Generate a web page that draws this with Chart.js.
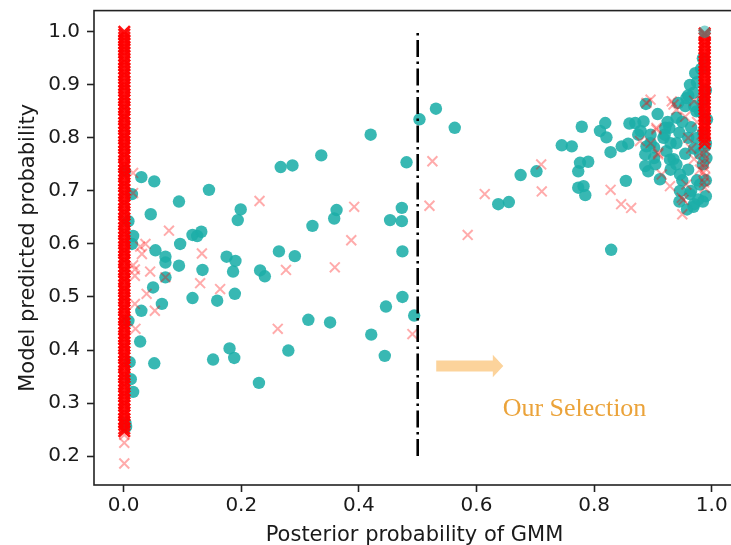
<!DOCTYPE html>
<html><head><meta charset="utf-8">
<script src="https://cdn.jsdelivr.net/npm/chart.js@4"></script>
<style>
html,body{margin:0;padding:0;background:#fff;overflow:hidden}
#wrap{width:731px;height:545px;overflow:hidden;position:relative;background:#fff}
canvas{display:block}
</style></head><body>
<div id="wrap"><canvas id="c" width="760" height="560"></canvas></div>
<script>
// ---- data ----
const xTicks = [0, 0.2, 0.4, 0.6, 0.8, 1.0];
const yTicks = [0.2, 0.3, 0.4, 0.5, 0.6, 0.7, 0.8, 0.9, 1.0];
const xLabel = 'Posterior probability of GMM';
const yLabel = 'Model predicted probability';
const noteText = 'Our Selection';
const threshold = 0.5;
const thresholdSpan = [0.2, 1.0];

const tealPts = [
  [0.030,0.726],[0.052,0.718],[0.145,0.702],[0.094,0.680],[0.046,0.656],[0.199,0.665],[0.194,0.645],[0.014,0.694],
  [0.016,0.615],[0.054,0.588],[0.071,0.576],[0.071,0.565],[0.096,0.600],[0.117,0.617],[0.125,0.615],[0.132,0.623],
  [0.094,0.559],[0.134,0.551],[0.175,0.576],[0.190,0.568],[0.186,0.548],[0.071,0.537],[0.232,0.550],[0.240,0.539],
  [0.050,0.518],[0.117,0.498],[0.159,0.493],[0.189,0.506],[0.065,0.487],[0.030,0.474],[0.028,0.416],[0.052,0.375],
  [0.152,0.382],[0.180,0.403],[0.188,0.385],[0.230,0.338],[0.016,0.321],[0.012,0.345],[0.010,0.377],[0.004,0.255],
  [0.008,0.455],[0.002,0.737],[0.008,0.643],[0.014,0.600],[0.003,0.262],
  [0.267,0.745],[0.287,0.748],[0.336,0.767],[0.420,0.806],[0.481,0.754],[0.503,0.835],[0.531,0.855],[0.563,0.819],
  [0.321,0.634],[0.362,0.664],[0.358,0.648],[0.453,0.645],[0.473,0.668],[0.473,0.643],[0.474,0.586],[0.264,0.586],
  [0.291,0.577],[0.474,0.500],[0.446,0.482],[0.494,0.465],[0.314,0.457],[0.351,0.452],[0.421,0.429],[0.280,0.399],
  [0.444,0.389],
  [0.829,0.589],[0.637,0.675],[0.655,0.679],[0.675,0.730],[0.702,0.737],[0.745,0.786],[0.762,0.784],[0.779,0.821],
  [0.776,0.753],[0.790,0.755],[0.773,0.737],[0.773,0.706],[0.782,0.709],[0.785,0.692],[0.810,0.813],[0.819,0.828],
  [0.821,0.801],[0.828,0.773],[0.847,0.784],[0.858,0.789],[0.860,0.827],[0.854,0.719],[0.888,0.864],[0.884,0.831],
  [0.870,0.828],[0.875,0.806],[0.908,0.845],[0.889,0.784],[0.887,0.769],[0.887,0.747],[0.892,0.737],[0.902,0.782],
  [0.904,0.750],[0.902,0.762],[0.912,0.722],[0.920,0.806],[0.928,0.819],[0.918,0.800],[0.923,0.775],[0.929,0.759],
  [0.943,0.866],[0.963,0.900],[0.972,0.922],[0.969,0.885],[0.957,0.875],[0.974,0.850],[0.921,0.819],[0.940,0.838],
  [0.879,0.813],[0.896,0.806],[0.896,0.790],[0.946,0.731],[0.946,0.700],[0.977,0.684],[0.969,0.670],[0.980,0.712],
  [0.963,0.694],[0.991,0.762],[0.989,0.784],
  [0.930,0.740],[0.935,0.760],[0.940,0.790],[0.945,0.810],[0.950,0.830],[0.955,0.860],[0.960,0.880],[0.965,0.820],
  [0.970,0.780],[0.975,0.800],[0.980,0.770],[0.985,0.750],[0.990,0.720],[0.975,0.720],[0.960,0.740],[0.955,0.770],
  [0.965,0.700],[0.950,0.720],[0.980,0.850],[0.985,0.870],[0.990,0.890],[0.975,0.905],[0.982,0.930],[0.985,0.950],
  [0.970,0.860],[0.960,0.800],[0.940,0.750],[0.930,0.790],[0.925,0.830],[0.985,0.810],[0.992,0.835],[0.990,0.790],
  [0.990,0.690],[0.985,0.680],[0.970,0.675],[0.958,0.665],[0.945,0.680]
];
const tealTopPts = [[0.988,1.000]];

const crossPts = [
  [0.016,0.734],[0.016,0.696],[0.077,0.625],[0.028,0.595],[0.037,0.600],[0.031,0.581],[0.133,0.582],[0.231,0.681],
  [0.045,0.548],[0.019,0.552],[0.016,0.560],[0.019,0.540],[0.039,0.506],[0.019,0.487],[0.053,0.474],[0.020,0.440],
  [0.130,0.526],[0.164,0.515],[0.071,0.537],[0.001,0.186],[0.001,0.225],[0.001,0.240],
  [0.392,0.670],[0.387,0.607],[0.276,0.551],[0.359,0.556],[0.525,0.756],[0.520,0.672],[0.585,0.617],[0.614,0.694],
  [0.262,0.440],[0.491,0.430],
  [0.710,0.750],[0.711,0.699],[0.828,0.702],[0.846,0.675],[0.863,0.668],[0.950,0.656],[0.952,0.683],[0.889,0.866],
  [0.935,0.863],[0.878,0.794],[0.906,0.816],[0.915,0.731],[0.929,0.709],[0.949,0.687],[0.909,0.769],[0.896,0.872],
  [0.932,0.869],[0.940,0.853],[0.906,0.819],[0.957,0.712],[0.896,0.790],[0.909,0.772],[0.983,0.806],[0.960,0.800],
  [0.970,0.760],[0.975,0.830],[0.965,0.780],[0.980,0.740],[0.955,0.840],[0.970,0.870],
  [0.988,0.778],[0.986,0.770],[0.989,0.761],[0.987,0.752],[0.988,0.744],[0.986,0.735],[0.989,0.726],[0.987,0.716],
  [0.988,0.706]
];

const leftColX = 0.001;
const leftColY = [
  1.0,0.995,0.989,0.984,0.978,0.972,0.967,0.961,0.955,0.948,0.943,0.937,0.931,0.924,0.919,0.913,0.906,0.900,0.895,0.889,
  0.882,0.876,0.871,0.864,0.858,0.853,0.846,0.840,0.835,0.828,0.822,0.817,0.810,0.804,0.799,0.792,0.786,0.781,0.774,0.768,
  0.763,0.756,0.750,0.745,0.738,0.732,0.727,0.720,0.714,0.709,0.702,0.696,0.691,0.684,0.678,0.673,0.666,0.660,0.655,0.648,
  0.642,0.637,0.630,0.624,0.619,0.612,0.606,0.601,0.594,0.588,0.583,0.576,0.570,0.565,0.558,0.552,0.547,0.540,0.534,0.529,
  0.522,0.516,0.511,0.504,0.498,0.493,0.486,0.480,0.475,0.468,0.462,0.457,0.450,0.444,0.439,0.432,0.426,0.421,0.414,0.408,
  0.403,0.396,0.390,0.385,0.378,0.372,0.367,0.360,0.354,0.349,0.342,0.336,0.331,0.324,0.318,0.313,0.306,0.300,0.295,0.288,
  0.282,0.277,0.270,0.264,0.259,0.252,0.247
];
const rightColX = 0.988;
const rightColY = [
  0.997,0.994,0.988,0.981,0.975,0.969,0.962,0.956,0.950,0.943,0.937,0.931,0.924,0.918,0.912,0.905,0.899,0.893,0.886,0.880,
  0.874,0.867,0.861,0.855,0.848,0.842,0.836,0.829,0.823,0.817,0.810,0.804,0.797,0.790
];

// ---- chart ----
const pts = a => a.map(p => ({x: p[0], y: p[1]}));
const col = (x, ys) => ys.map(y => ({x: x, y: y}));
const FRAME = '#222';
const TEAL = 'rgba(28,174,168,0.88)';

const framePlugin = {
  id: 'frame',
  afterDatasetsDraw(chart) {
    const {ctx, chartArea: a, scales: {x, y}} = chart;
    ctx.save();
    ctx.strokeStyle = FRAME; ctx.lineWidth = 1.6;
    ctx.strokeRect(a.left, a.top, a.right - a.left, a.bottom - a.top);
    // arrow
    const ax0 = x.getPixelForValue(0.5315), ax1 = x.getPixelForValue(0.6456), ay = y.getPixelForValue(0.370);
    ctx.fillStyle = '#fcd39b';
    ctx.beginPath();
    ctx.moveTo(ax0, ay - 5.5);
    ctx.lineTo(ax1 - 10.5, ay - 5.5);
    ctx.lineTo(ax1 - 10.5, ay - 11.2);
    ctx.lineTo(ax1, ay);
    ctx.lineTo(ax1 - 10.5, ay + 11.2);
    ctx.lineTo(ax1 - 10.5, ay + 5.5);
    ctx.lineTo(ax0, ay + 5.5);
    ctx.closePath(); ctx.fill();
    // note
    ctx.fillStyle = '#eba33a';
    ctx.font = '26px "Liberation Serif", "Times New Roman", serif';
    ctx.textAlign = 'left'; ctx.textBaseline = 'alphabetic';
    ctx.fillText(noteText, x.getPixelForValue(0.6445), y.getPixelForValue(0.275));
    ctx.restore();
  }
};

const tickFont = {family: '"DejaVu Sans", sans-serif', size: 20};
const titleFont = {family: '"DejaVu Sans", sans-serif', size: 21};

new Chart(document.getElementById('c'), {
  type: 'scatter',
  data: {
    datasets: [
      {type: 'line', data: [{x: threshold, y: thresholdSpan[0]}, {x: threshold, y: thresholdSpan[1]}],
       borderColor: '#000', borderWidth: 2.6, borderDash: [17, 4.5, 2.5, 4.5], pointRadius: 0, fill: false, order: 0},
      {data: pts(tealTopPts), pointStyle: 'circle', radius: 6.2, borderWidth: 0,
       backgroundColor: 'rgba(28,174,168,0.55)', borderColor: 'rgba(0,0,0,0)', order: 1},
      {data: pts(crossPts), pointStyle: 'crossRot', radius: 7, borderWidth: 2,
       borderColor: 'rgba(255,0,0,0.33)', backgroundColor: 'rgba(255,0,0,0.33)', order: 2},
      {data: col(leftColX, leftColY).concat(col(rightColX, rightColY)), pointStyle: 'crossRot', radius: 8, borderWidth: 2.6,
       borderColor: 'rgba(255,0,0,0.93)', backgroundColor: 'rgba(255,0,0,0.93)', order: 3},
      {data: pts(tealPts), pointStyle: 'circle', radius: 6.2, borderWidth: 0,
       backgroundColor: TEAL, borderColor: 'rgba(0,0,0,0)', order: 4}
    ]
  },
  options: {
    responsive: false, animation: false, events: [],
    layout: {padding: {left: 0, top: 9, right: 25, bottom: 0}},
    plugins: {legend: {display: false}, tooltip: {enabled: false}},
    scales: {
      x: {
        type: 'linear', position: 'bottom', min: -0.0505, max: 1.0396,
        afterBuildTicks: s => { s.ticks = xTicks.map(v => ({value: v})); },
        afterFit: s => { s.height = 75; s.paddingLeft = 0; s.paddingRight = 0; },
        ticks: {font: tickFont, color: '#1a1a1a', padding: 2, maxRotation: 0, autoSkip: false, includeBounds: false,
                callback: v => v.toFixed(1)},
        grid: {drawOnChartArea: false, drawTicks: true, tickLength: 7, tickWidth: 1.6, tickColor: FRAME},
        border: {display: false},
        title: {display: true, text: xLabel, font: titleFont, color: '#1a1a1a', padding: {top: 0, bottom: 11.4}}
      },
      y: {
        type: 'linear', position: 'left', min: 0.1455, max: 1.040,
        afterBuildTicks: s => { s.ticks = yTicks.map(v => ({value: v})); },
        afterFit: s => { s.width = 94; s.paddingTop = 0; s.paddingBottom = 0; },
        ticks: {font: tickFont, color: '#1a1a1a', padding: 7, autoSkip: false, includeBounds: false,
                callback: v => v.toFixed(1)},
        grid: {drawOnChartArea: false, drawTicks: true, tickLength: 7, tickWidth: 1.6, tickColor: FRAME},
        border: {display: false},
        title: {display: true, text: yLabel, font: titleFont, color: '#1a1a1a', padding: {top: 16, bottom: 0}}
      }
    }
  },
  plugins: [framePlugin]
});
</script>
</body></html>
